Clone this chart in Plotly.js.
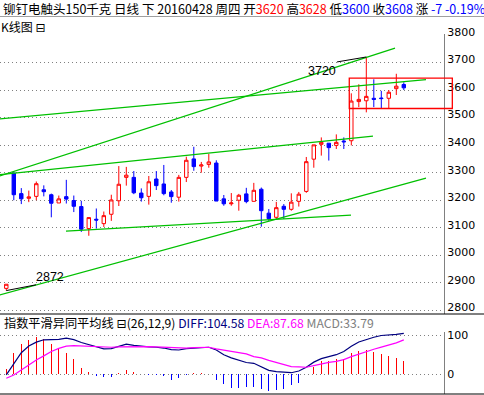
<!DOCTYPE html>
<html><head><meta charset="utf-8">
<script src="https://cdn.plot.ly/plotly-3.0.1.min.js"></script>
<style>html,body{margin:0;padding:0;background:#fff;overflow:hidden;}</style>
</head><body><div id="chart" style="width:484px;height:395px;"></div>
<script>
// ---- candle data (trading-day order) ----
const openP  = [2880,3298,3224,3207,3214,3238,3220,3190,3213,3199,3177,3097,3131,3115,3149,3198,3283,3283,3226,3214,3277,3259,3230,3211,3283,3350,3324,3330,3335,3205,3187,3200,3223,3196,3240,3153,3138,3178,3167,3196,3232,3349,3403,3407,3399,3415,3416,3558,3561,3570,3571,3570,3605,3620];
const highP  = [2895,3302,3244,3235,3268,3254,3224,3217,3274,3217,3198,3137,3170,3159,3220,3324,3321,3306,3243,3288,3306,3328,3237,3292,3358,3394,3339,3368,3345,3219,3226,3223,3245,3263,3246,3168,3194,3186,3225,3230,3357,3401,3428,3407,3439,3428,3588,3621,3720,3639,3597,3600,3659,3628];
const lowP   = [2872,3200,3186,3193,3200,3214,3138,3190,3188,3157,3085,3071,3097,3103,3125,3179,3253,3222,3195,3184,3237,3218,3191,3195,3266,3307,3300,3318,3197,3180,3180,3162,3189,3196,3104,3125,3130,3132,3162,3177,3227,3318,3362,3344,3386,3386,3399,3538,3519,3538,3534,3534,3582,3600];
const closeP = [2895,3220,3205,3212,3260,3231,3189,3205,3204,3178,3095,3137,3128,3144,3201,3258,3291,3227,3209,3267,3253,3224,3213,3283,3345,3322,3328,3339,3197,3187,3190,3218,3195,3236,3162,3133,3173,3167,3193,3222,3340,3401,3410,3391,3410,3412,3560,3566,3577,3566,3569,3592,3614,3608];

// ---- MACD data ----
const diffV = [-1.7,28,55,72,82,88,88,89,92,88.5,81,76,70,65,65.5,71.5,77,74,71.5,70,69,67,63,62,65.5,67,69,69,62,50,42,35,30,28,18,10,7,5,4,8.5,18,31,40,45,50,58,71.5,82.5,89,94.5,99,100,102,104.58];
const deaV  = [-10,-1.7,11,24,36.6,47,58,66,72,73,72,72,71.5,70,69,70,70.6,70.6,70.6,70.6,70,69,68,67,67,68,69,69,64.7,62,58.7,55,52,45,41.7,35.7,29.8,24.7,19.6,18.7,17.9,22,26.4,30.6,33,37.4,45,52,58,64,69.4,75,80,87.68];
const macdV = [13.6,55,78,88,95,89,78,67,54,39,16,6,-3.4,-7.7,-6.8,4.3,10,6,1,-1,-2,-4.3,-13.6,-8.5,-1,2.5,2.5,2,-15,-26,-35,-35,-33.6,-32,-38,-43,-39,-36.6,-28,-22,0,19.6,35,33,39,40,54.5,59.6,62,57,52.8,46.8,41.7,33.79];

// ---- drawn trend lines (day index, price) ----
const trendX0 = [-0.9, -0.9, -0.9, 7.96, -0.9];
const trendY0 = [3288, 3495, 3293, 3088, 2856];
const trendX1 = [51.83, 55.96, 48.89, 45.96, 55.96];
const trendY1 = [3752, 3638, 3433, 3146, 3280];

// ---- marked box (day index, price) ----
const boxX = [45.73, 59.47];
const boxY = [3533, 3643];

// ---- axis ticks ----
const priceTicks = [2800,2900,3000,3100,3200,3300,3400,3500,3600,3700,3800];
const macdTicks = [0,100];

// ---- header info ----
const titleName = '铆钉电触头150千克';
const titleDate = '20160428 周四';
const changeText = '-7 -0.19%';

const N = openP.length;
const dayIdx = openP.map((_, i) => i);
const xRange = [-0.84, 58.36];
const W = 484, H = 395, plotW = 444;
const py = y => (H - y) / H;

const RED = '#ff0000', BLUE = '#0000ff', GREEN = '#00c000';

// trend lines as one trace with gaps
const tX = [], tY = [];
for (let k = 0; k < trendX0.length; k++) { tX.push(trendX0[k], trendX1[k], null); tY.push(trendY0[k], trendY1[k], null); }

// high / low markers
const hiVal = Math.max(...highP), hiI = highP.indexOf(hiVal);
const loVal = Math.min(...lowP), loI = lowP.indexOf(loVal);

const traces = [
  {type:'scatter', mode:'lines', x:tX, y:tY, line:{color:GREEN, width:1.3}, hoverinfo:'skip', xaxis:'x', yaxis:'y'},
  {type:'candlestick', x:dayIdx, open:openP, high:highP, low:lowP, close:closeP,
   increasing:{line:{color:RED, width:1}, fillcolor:'#ffffff'},
   decreasing:{line:{color:BLUE, width:1}, fillcolor:BLUE},
   whiskerwidth:0, hoverinfo:'skip', xaxis:'x', yaxis:'y'},
  {type:'scatter', mode:'lines', x:[hiI-3.9, hiI], y:[hiVal-18, hiVal], line:{color:'#000', width:1}, hoverinfo:'skip', xaxis:'x', yaxis:'y'},
  {type:'scatter', mode:'lines', x:[loI, loI+3.96], y:[loVal, loVal+21], line:{color:'#000', width:1}, hoverinfo:'skip', xaxis:'x', yaxis:'y'},
  {type:'bar', x:dayIdx, y:macdV, width:0.16, marker:{color:macdV.map(v => v >= 0 ? RED : BLUE), line:{width:0}}, hoverinfo:'skip', xaxis:'x2', yaxis:'y2'},
  {type:'scatter', mode:'lines', x:dayIdx, y:diffV, line:{color:'#000080', width:1.2}, hoverinfo:'skip', xaxis:'x2', yaxis:'y2'},
  {type:'scatter', mode:'lines', x:dayIdx, y:deaV, line:{color:'#ff00ff', width:1.2}, hoverinfo:'skip', xaxis:'x2', yaxis:'y2'}
];

const toPaperX = v => (v - xRange[0]) / (xRange[1] - xRange[0]);
const tickFont = {family:'DejaVu Sans', size:11, color:'#000'};
const cjk = 'Noto Sans CJK SC, DejaVu Sans';
const last = N - 1;

const layout = {
  width:W, height:H, margin:{l:0, r:W-plotW, t:0, b:0, pad:0},
  paper_bgcolor:'#fff', plot_bgcolor:'#fff', showlegend:false, boxgap:0.35, bargap:0,
  xaxis:{domain:[0,1], range:xRange, anchor:'y', showticklabels:false, showgrid:false, zeroline:false, showline:false, ticks:'', rangeslider:{visible:false}, fixedrange:true},
  xaxis2:{domain:[0,1], range:xRange, anchor:'y2', showticklabels:false, showgrid:false, zeroline:false, showline:false, ticks:'', fixedrange:true},
  yaxis:{domain:[py(314), py(34)], range:[2787, 3803.4], side:'right', tickvals:priceTicks, ticktext:priceTicks.map(String),
         showgrid:true, gridcolor:'#808080', griddash:'1px,3px', gridwidth:1, zeroline:false, ticklabelshift:-3,
         showline:true, linecolor:'#808080', linewidth:1, ticks:'', tickfont:tickFont, fixedrange:true},
  yaxis2:{domain:[py(394), py(332)], range:[-50.3, 107.9], side:'right', tickvals:macdTicks, ticktext:macdTicks.map(String),
         showgrid:true, gridcolor:'#808080', griddash:'1px,3px', gridwidth:1, zeroline:false, ticklabelshift:-3.5,
         showline:true, linecolor:'#808080', linewidth:1, ticks:'', tickfont:tickFont, fixedrange:true},
  shapes:[
    {type:'line', xref:'paper', yref:'paper', x0:0, x1:W/plotW, y0:py(16.5), y1:py(16.5), line:{color:'#a0a0a0', width:1}},
    {type:'line', xref:'paper', yref:'paper', x0:0, x1:W/plotW, y0:py(314), y1:py(314), line:{color:'#000', width:1}},
    {type:'line', xref:'paper', yref:'paper', x0:0, x1:W/plotW, y0:py(394), y1:py(394), line:{color:'#000', width:1}},
    {type:'rect', xref:'paper', yref:'y', x0:toPaperX(boxX[0]), x1:toPaperX(boxX[1]), y0:boxY[0], y1:boxY[1], line:{color:RED, width:1.3}, fillcolor:'rgba(0,0,0,0)'}
  ],
  annotations:[
    {xref:'paper', yref:'paper', x:2/plotW, y:py(8.5), xanchor:'left', yanchor:'middle', showarrow:false, borderpad:0,
     font:{family:cjk, size:12.5, color:'#000'},
     text: titleName + ' 日线 下 ' + titleDate + ' 开<span style="color:#ff0000">' + openP[last] + '</span> 高<span style="color:#ff0000">' + highP[last] +
           '</span> 低<span style="color:#0000ff">' + lowP[last] + '</span> 收<span style="color:#0000ff">' + closeP[last] + '</span> 涨 <span style="color:#0000ff">' + changeText + '</span>'},
    {xref:'paper', yref:'paper', x:0, y:py(26), xanchor:'left', yanchor:'middle', showarrow:false, borderpad:0,
     font:{family:cjk, size:12, color:'#000'}, text:'K线图 ⊟'},
    {xref:'paper', yref:'paper', x:2/plotW, y:py(323), xanchor:'left', yanchor:'middle', showarrow:false,
     font:{family:cjk, size:12.2, color:'#000'},
     text:'指数平滑异同平均线 ⊟(26,12,9) <span style="color:#000080">DIFF:' + diffV[last].toFixed(2) + '</span> <span style="color:#ff00ff">DEA:' + deaV[last].toFixed(2) +
          '</span> <span style="color:#808080">MACD:' + macdV[last].toFixed(2) + '</span>'},
    {xref:'x', yref:'y', x:hiI-5.9, y:hiVal-51, xanchor:'center', yanchor:'middle', showarrow:false,
     font:{family:'Liberation Sans, Arial', size:12.5, color:'#000'}, text:String(hiVal)},
    {xref:'x', yref:'y', x:loI+5.83, y:loVal+49, xanchor:'center', yanchor:'middle', showarrow:false,
     font:{family:'Liberation Sans, Arial', size:12.5, color:'#000'}, text:String(loVal)}
  ]
};

Plotly.newPlot('chart', traces, layout, {staticPlot:true, displayModeBar:false});
</script>
</body></html>
